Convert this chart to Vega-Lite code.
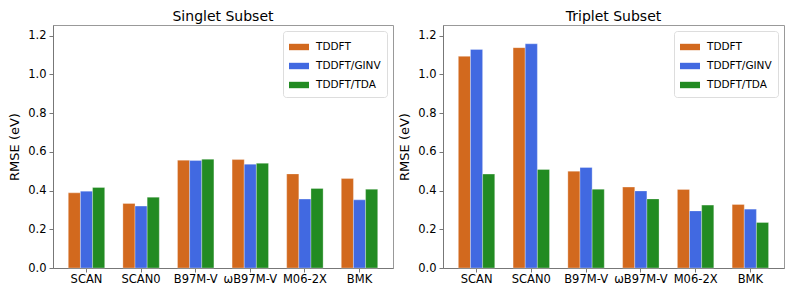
{
  "$schema": "https://vega.github.io/schema/vega-lite/v6.json",
  "padding": {"left": 8, "top": 9, "right": 5, "bottom": 3},
  "background": "white",
  "data": {"values": [
    {"subset": "Singlet", "functional": "SCAN", "method": "TDDFT", "rmse": 0.388},
    {"subset": "Singlet", "functional": "SCAN", "method": "TDDFT/GINV", "rmse": 0.397},
    {"subset": "Singlet", "functional": "SCAN", "method": "TDDFT/TDA", "rmse": 0.416},
    {"subset": "Singlet", "functional": "SCAN0", "method": "TDDFT", "rmse": 0.333},
    {"subset": "Singlet", "functional": "SCAN0", "method": "TDDFT/GINV", "rmse": 0.320},
    {"subset": "Singlet", "functional": "SCAN0", "method": "TDDFT/TDA", "rmse": 0.366},
    {"subset": "Singlet", "functional": "B97M-V", "method": "TDDFT", "rmse": 0.557},
    {"subset": "Singlet", "functional": "B97M-V", "method": "TDDFT/GINV", "rmse": 0.555},
    {"subset": "Singlet", "functional": "B97M-V", "method": "TDDFT/TDA", "rmse": 0.562},
    {"subset": "Singlet", "functional": "ωB97M-V", "method": "TDDFT", "rmse": 0.560},
    {"subset": "Singlet", "functional": "ωB97M-V", "method": "TDDFT/GINV", "rmse": 0.536},
    {"subset": "Singlet", "functional": "ωB97M-V", "method": "TDDFT/TDA", "rmse": 0.541},
    {"subset": "Singlet", "functional": "M06-2X", "method": "TDDFT", "rmse": 0.486},
    {"subset": "Singlet", "functional": "M06-2X", "method": "TDDFT/GINV", "rmse": 0.356},
    {"subset": "Singlet", "functional": "M06-2X", "method": "TDDFT/TDA", "rmse": 0.411},
    {"subset": "Singlet", "functional": "BMK", "method": "TDDFT", "rmse": 0.462},
    {"subset": "Singlet", "functional": "BMK", "method": "TDDFT/GINV", "rmse": 0.352},
    {"subset": "Singlet", "functional": "BMK", "method": "TDDFT/TDA", "rmse": 0.407},
    {"subset": "Triplet", "functional": "SCAN", "method": "TDDFT", "rmse": 1.093},
    {"subset": "Triplet", "functional": "SCAN", "method": "TDDFT/GINV", "rmse": 1.129},
    {"subset": "Triplet", "functional": "SCAN", "method": "TDDFT/TDA", "rmse": 0.485},
    {"subset": "Triplet", "functional": "SCAN0", "method": "TDDFT", "rmse": 1.138},
    {"subset": "Triplet", "functional": "SCAN0", "method": "TDDFT/GINV", "rmse": 1.158},
    {"subset": "Triplet", "functional": "SCAN0", "method": "TDDFT/TDA", "rmse": 0.509},
    {"subset": "Triplet", "functional": "B97M-V", "method": "TDDFT", "rmse": 0.500},
    {"subset": "Triplet", "functional": "B97M-V", "method": "TDDFT/GINV", "rmse": 0.519},
    {"subset": "Triplet", "functional": "B97M-V", "method": "TDDFT/TDA", "rmse": 0.407},
    {"subset": "Triplet", "functional": "ωB97M-V", "method": "TDDFT", "rmse": 0.418},
    {"subset": "Triplet", "functional": "ωB97M-V", "method": "TDDFT/GINV", "rmse": 0.398},
    {"subset": "Triplet", "functional": "ωB97M-V", "method": "TDDFT/TDA", "rmse": 0.357},
    {"subset": "Triplet", "functional": "M06-2X", "method": "TDDFT", "rmse": 0.406},
    {"subset": "Triplet", "functional": "M06-2X", "method": "TDDFT/GINV", "rmse": 0.295},
    {"subset": "Triplet", "functional": "M06-2X", "method": "TDDFT/TDA", "rmse": 0.325},
    {"subset": "Triplet", "functional": "BMK", "method": "TDDFT", "rmse": 0.328},
    {"subset": "Triplet", "functional": "BMK", "method": "TDDFT/GINV", "rmse": 0.304},
    {"subset": "Triplet", "functional": "BMK", "method": "TDDFT/TDA", "rmse": 0.235}
  ]},
  "spacing": 4,
  "resolve": {"scale": {"color": "independent", "y": "independent", "x": "independent"}},
  "hconcat": [
    {
      "title": "Singlet Subset",
      "width": 340,
      "height": 243,
      "transform": [{"filter": "datum.subset === 'Singlet'"}],
      "mark": {"type": "bar", "stroke": "white", "strokeWidth": 0.6, "strokeOpacity": 0.5},
      "encoding": {
        "x": {"field": "functional", "type": "nominal", "sort": ["SCAN", "SCAN0", "B97M-V", "ωB97M-V", "M06-2X", "BMK"], "scale": {"paddingInner": 0.333, "paddingOuter": 0.28}, "axis": {"title": null, "labelAngle": 0, "labelPadding": 1}},
        "xOffset": {"field": "method", "type": "nominal", "sort": ["TDDFT", "TDDFT/GINV", "TDDFT/TDA"], "scale": {"paddingInner": 0, "paddingOuter": 0}},
        "y": {"field": "rmse", "type": "quantitative", "scale": {"domain": [0, 1.255], "nice": false, "zero": true}, "axis": {"title": "RMSE (eV)", "values": [0, 0.2, 0.4, 0.6, 0.8, 1.0, 1.2], "format": ".1f"}},
        "color": {"field": "method", "type": "nominal", "sort": ["TDDFT", "TDDFT/GINV", "TDDFT/TDA"], "scale": {"domain": ["TDDFT", "TDDFT/GINV", "TDDFT/TDA"], "range": ["#D2691E", "#4169E1", "#228B22"]}, "legend": {"title": null, "orient": "top-right", "offset": 6}}
      }
    },
    {
      "title": "Triplet Subset",
      "width": 341,
      "height": 243,
      "transform": [{"filter": "datum.subset === 'Triplet'"}],
      "mark": {"type": "bar", "stroke": "white", "strokeWidth": 0.6, "strokeOpacity": 0.5},
      "encoding": {
        "x": {"field": "functional", "type": "nominal", "sort": ["SCAN", "SCAN0", "B97M-V", "ωB97M-V", "M06-2X", "BMK"], "scale": {"paddingInner": 0.333, "paddingOuter": 0.28}, "axis": {"title": null, "labelAngle": 0, "labelPadding": 1}},
        "xOffset": {"field": "method", "type": "nominal", "sort": ["TDDFT", "TDDFT/GINV", "TDDFT/TDA"], "scale": {"paddingInner": 0, "paddingOuter": 0}},
        "y": {"field": "rmse", "type": "quantitative", "scale": {"domain": [0, 1.255], "nice": false, "zero": true}, "axis": {"title": "RMSE (eV)", "values": [0, 0.2, 0.4, 0.6, 0.8, 1.0, 1.2], "format": ".1f"}},
        "color": {"field": "method", "type": "nominal", "sort": ["TDDFT", "TDDFT/GINV", "TDDFT/TDA"], "scale": {"domain": ["TDDFT", "TDDFT/GINV", "TDDFT/TDA"], "range": ["#D2691E", "#4169E1", "#228B22"]}, "legend": {"title": null, "orient": "top-right", "offset": 6}}
      }
    }
  ],
  "config": {
    "font": "DejaVu Sans",
    "view": {"stroke": "#999", "strokeWidth": 1},
    "title": {"fontSize": 14, "fontWeight": "normal", "color": "black", "offset": 1, "anchor": "middle"},
    "axis": {"grid": false, "labelFontSize": 11.5, "labelColor": "black", "titleFontSize": 13, "titleFontWeight": "normal", "titleColor": "black", "domainColor": "#777", "tickColor": "#777", "tickSize": 4, "labelPadding": 3, "titlePadding": 6},
    "legend": {"fillColor": "white", "strokeColor": "#ddd", "cornerRadius": 3, "padding": 6, "labelFontSize": 10.5, "labelColor": "black", "symbolType": "M-1,-0.32L1,-0.32L1,0.32L-1,0.32Z", "symbolSize": 400, "symbolStrokeWidth": 0, "symbolOpacity": 1, "rowPadding": 3, "labelOffset": 7}
  }
}
